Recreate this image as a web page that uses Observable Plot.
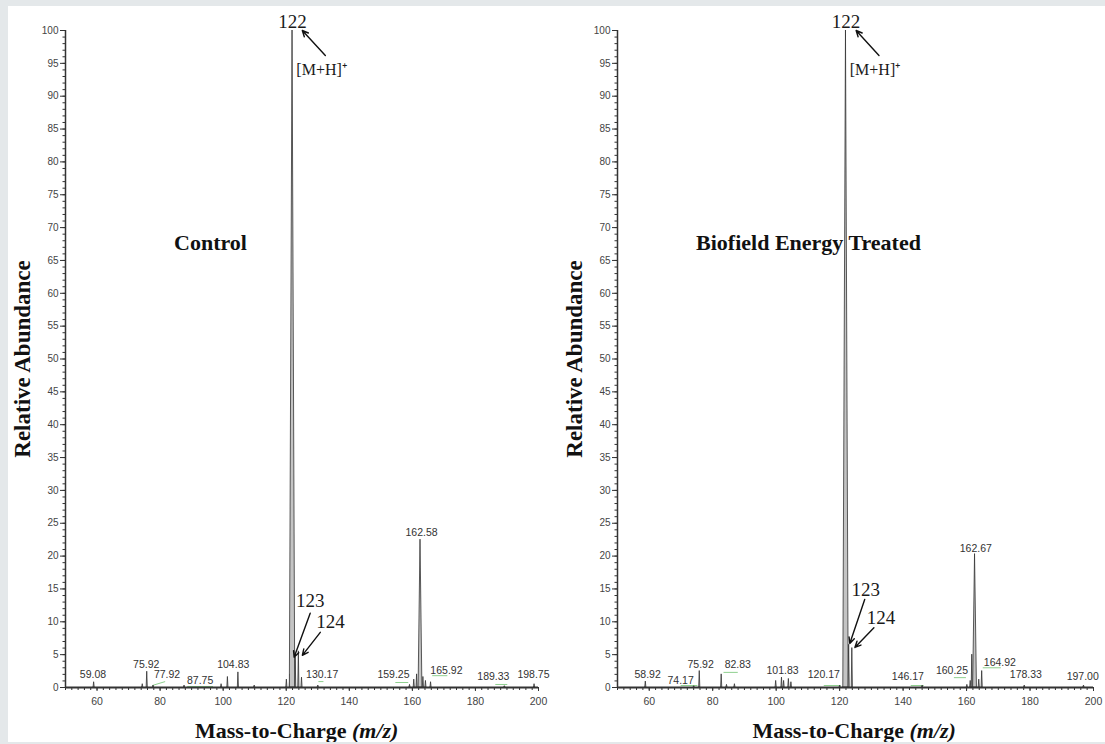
<!DOCTYPE html>
<html>
<head>
<meta charset="utf-8">
<script src="https://cdn.jsdelivr.net/npm/d3@7"></script>
<script src="https://cdn.jsdelivr.net/npm/@observablehq/plot@0.6"></script>
<style>
  html, body { margin: 0; padding: 0; background: #e4e8ea; width: 1105px; height: 744px; overflow: hidden; }
  #panel { position: absolute; left: 8px; top: 6px; width: 1097px; height: 736px; background: #fff; overflow: hidden; }
  #panel svg { position: absolute; top: -6px; overflow: visible; }
</style>
</head>
<body>
<div id="panel"></div>
<script>
// ---------- Data: Control ----------
const controlMz    = [59.08, 74.5, 75.92, 77.92, 87.75, 99.5, 101.5, 104.83, 110.0, 120.2, 121.3, 122.0, 123.0, 124.0, 125.0, 130.17, 159.25, 160.6, 161.5, 162.58, 163.5, 164.3, 165.92, 189.33, 198.75];
const controlAbund = [0.8, 0.5, 2.4, 0.3, 0.3, 0.5, 1.6, 2.3, 0.3, 1.2, 2.0, 100, 4.6, 5.5, 1.5, 0.3, 0.4, 1.2, 2.0, 22.5, 1.6, 1.0, 0.8, 0.2, 0.5];
const controlLabels     = ["59.08", "75.92", "77.92", "87.75", "104.83", "130.17", "159.25", "162.58", "165.92", "189.33", "198.75"];
const controlLabelMz    = [58.7, 75.6, 82.2, 92.7, 103.2, 131.4, 154.0, 162.9, 170.8, 185.7, 198.4];
const controlLabelAbund = [1.4, 3.0, 1.4, 0.6, 2.9, 1.4, 1.4, 23.1, 2.1, 1.1, 1.4];
const controlAnnText  = ["122", "123", "124"];
const controlAnnMz    = [122.0, 127.6, 134.0];
const controlAnnAbund = [100.4, 12.2, 9.0];
const controlIonText  = ["[M+H]⁺"];
const controlIonMz    = [123.2];
const controlIonAbund = [93.3];
const controlArrowFromMz = [132.4, 127.6, 130.8];
const controlArrowFromAb = [96.2, 11.3, 8.4];
const controlArrowToMz   = [125.1, 122.5, 125.1];
const controlArrowToAb   = [100.0, 4.6, 4.9];
const controlLeadMz1 = [77.5, 88.6, 130.2, 154.6, 166.3, 186.3];
const controlLeadMz2 = [81.6, 96.8, 131.8, 158.7, 171.1, 190.1];
const controlLeadAb1 = [0.3, 0.15, 0.9, 0.76, 1.8, 0.46];
const controlLeadAb2 = [0.9, 0.15, 0.9, 0.76, 1.8, 0.46];

// ---------- Data: Biofield Energy Treated ----------
const treatedMz    = [58.92, 74.17, 75.92, 82.83, 84.5, 87.0, 100.0, 101.83, 102.5, 104.0, 104.8, 120.17, 122.0, 123.0, 124.0, 146.17, 160.25, 161.3, 161.8, 162.67, 164.0, 164.92, 178.33, 197.0];
const treatedAbund = [0.9, 0.2, 2.5, 2.0, 0.4, 0.5, 1.0, 1.5, 1.0, 1.3, 0.8, 0.3, 100, 6.5, 6.0, 0.3, 0.4, 1.0, 5.0, 20.3, 1.2, 2.5, 0.3, 0.3];
const treatedLabels     = ["58.92", "74.17", "75.92", "82.83", "101.83", "120.17", "146.17", "160.25", "162.67", "164.92", "178.33", "197.00"];
const treatedLabelMz    = [59.5, 69.9, 76.2, 87.9, 102.0, 115.0, 141.5, 155.4, 162.9, 170.5, 178.7, 196.6];
const treatedLabelAbund = [1.5, 0.6, 2.9, 2.9, 2.1, 1.5, 1.2, 2.0, 20.7, 3.3, 1.5, 1.1];
const treatedAnnText  = ["122", "123", "124"];
const treatedAnnMz    = [122.0, 128.2, 133.0];
const treatedAnnAbund = [100.4, 14.0, 9.7];
const treatedIonText  = ["[M+H]⁺"];
const treatedIonMz    = [123.2];
const treatedIonAbund = [93.3];
const treatedArrowFromMz = [132.4, 127.9, 130.8];
const treatedArrowFromAb = [96.2, 13.4, 9.1];
const treatedArrowToMz   = [125.2, 123.2, 124.8];
const treatedArrowToAb   = [100.0, 6.7, 6.1];
const treatedLeadMz1 = [69.9, 83.4, 115.0, 142.4, 156.0, 165.1];
const treatedLeadMz2 = [75.2, 87.9, 120.3, 146.5, 159.8, 170.8];
const treatedLeadAb1 = [0.3, 2.3, 0.3, 0.3, 1.5, 3.0];
const treatedLeadAb2 = [0.3, 2.3, 0.3, 0.3, 1.5, 3.0];

// ---------- Axis ticks ----------
const yMajorTicks = d3.range(0, 101, 5);
const yMinorTicks = d3.range(0, 101, 1);
const xMajorTicks = [60, 80, 100, 120, 140, 160, 180, 200];
const xMinorTicks = d3.range(50, 201, 2);

const serif = "'Liberation Serif', 'Times New Roman', serif";
const sans = "'Liberation Sans', Arial, sans-serif";

function spectrum(cfg) {
  const peaks = cfg.mz.flatMap((m, i) => {
    const a = cfg.abund[i];
    const hw = a > 50 ? 0.85 : a > 15 ? 0.6 : 0.18;
    return [{x: m - hw, y: 0, z: i}, {x: m, y: a, z: i}, {x: m + hw, y: 0, z: i}];
  });
  const labels = cfg.labels.map((t, i) => ({t, x: cfg.labelMz[i], y: cfg.labelAbund[i]}));
  const ann = cfg.annText.map((t, i) => ({t, x: cfg.annMz[i], y: cfg.annAbund[i]}));
  const ion = cfg.ionText.map((t, i) => ({t, x: cfg.ionMz[i], y: cfg.ionAbund[i]}));
  const arrows = cfg.arFromMz.map((m, i) => ({x1: m, y1: cfg.arFromAb[i], x2: cfg.arToMz[i], y2: cfg.arToAb[i]}));
  const leads = cfg.ldMz1.map((m, i) => ({x1: m, y1: cfg.ldAb1[i], x2: cfg.ldMz2[i], y2: cfg.ldAb2[i]}));
  return Plot.plot({
    width: cfg.width,
    height: 744,
    marginLeft: cfg.marginLeft,
    marginRight: cfg.marginRight,
    marginTop: 30,
    marginBottom: 57,
    x: {domain: [50, 200]},
    y: {domain: [0, 100]},
    style: {fontFamily: sans, background: "transparent", overflow: "visible"},
    marks: [
      Plot.link(leads, {x1: "x1", y1: "y1", x2: "x2", y2: "y2", stroke: "#8fd08f", strokeWidth: 1}),
      Plot.areaY(peaks, {x: "x", y: "y", z: "z", fill: "#c4c4c4", stroke: "#333", strokeWidth: 0.8, curve: "linear"}),
      Plot.axisY(yMinorTicks, {tickSize: 2.5, text: null, stroke: "#333", label: null}),
      Plot.axisY(yMajorTicks, {tickSize: 5, tickPadding: 2, fontSize: 10, fill: "#444", stroke: "#333", label: null}),
      Plot.axisX(xMinorTicks, {tickSize: 3, text: null, stroke: "#333", label: null}),
      Plot.axisX(xMajorTicks, {tickSize: 4, tickPadding: 6, fontSize: 10.5, fill: "#444", stroke: "#333", label: null}),
      Plot.ruleX([50], {stroke: "#333", strokeWidth: 1.5}),
      Plot.ruleY([0], {stroke: "#333", strokeWidth: 1.8}),
      Plot.text(labels, {x: "x", y: "y", text: "t", lineAnchor: "bottom", fontSize: 10.5, fill: "#333", fontFamily: sans}),
      Plot.arrow(arrows, {x1: "x1", y1: "y1", x2: "x2", y2: "y2", stroke: "#111", strokeWidth: 1.4, headLength: 7, headAngle: 50}),
      Plot.text(ann, {x: "x", y: "y", text: "t", textAnchor: "middle", lineAnchor: "bottom", fontSize: 19, fill: "#1a1a1a", fontFamily: serif}),
      Plot.text(ion, {x: "x", y: "y", text: "t", textAnchor: "start", lineAnchor: "bottom", fontSize: 16, fill: "#1a1a1a", fontFamily: serif}),
      Plot.text([cfg.title], {frameAnchor: "top-left", dx: cfg.titleDx, dy: 212, textAnchor: "middle", lineAnchor: "middle", fontSize: 22, fontWeight: "bold", fill: "#111", fontFamily: serif}),
      Plot.text(["Relative Abundance"], {frameAnchor: "left", dx: -43, rotate: -90, textAnchor: "middle", lineAnchor: "middle", fontSize: 23, fontWeight: "bold", fill: "#111", fontFamily: serif}),
      Plot.text(["Mass-to-Charge "], {frameAnchor: "bottom", dx: cfg.xlabDx, dy: 50, textAnchor: "end", lineAnchor: "bottom", fontSize: 22, fontWeight: "bold", fill: "#111", fontFamily: serif}),
      Plot.text(["(m/z)"], {frameAnchor: "bottom", dx: cfg.xlabDx, dy: 50, textAnchor: "start", lineAnchor: "bottom", fontSize: 22, fontWeight: "bold", fontStyle: "italic", fill: "#111", fontFamily: serif})
    ]
  });
}

const panel = document.getElementById("panel");

const left = spectrum({
  mz: controlMz, abund: controlAbund,
  labels: controlLabels, labelMz: controlLabelMz, labelAbund: controlLabelAbund,
  annText: controlAnnText, annMz: controlAnnMz, annAbund: controlAnnAbund,
  ionText: controlIonText, ionMz: controlIonMz, ionAbund: controlIonAbund,
  arFromMz: controlArrowFromMz, arFromAb: controlArrowFromAb, arToMz: controlArrowToMz, arToAb: controlArrowToAb,
  ldMz1: controlLeadMz1, ldMz2: controlLeadMz2, ldAb1: controlLeadAb1, ldAb2: controlLeadAb2,
  title: "Control", titleDx: 145, xlabDx: 50,
  width: 555, marginLeft: 65, marginRight: 17
});
left.style.left = "-8px";
panel.appendChild(left);

const right = spectrum({
  mz: treatedMz, abund: treatedAbund,
  labels: treatedLabels, labelMz: treatedLabelMz, labelAbund: treatedLabelAbund,
  annText: treatedAnnText, annMz: treatedAnnMz, annAbund: treatedAnnAbund,
  ionText: treatedIonText, ionMz: treatedIonMz, ionAbund: treatedIonAbund,
  arFromMz: treatedArrowFromMz, arFromAb: treatedArrowFromAb, arToMz: treatedArrowToMz, arToAb: treatedArrowToAb,
  ldMz1: treatedLeadMz1, ldMz2: treatedLeadMz2, ldAb1: treatedLeadAb1, ldAb2: treatedLeadAb2,
  title: "Biofield Energy Treated", titleDx: 191, xlabDx: 54,
  width: 553, marginLeft: 65, marginRight: 12
});
right.style.left = (552 - 8) + "px";
panel.appendChild(right);
</script>
</body>
</html>
